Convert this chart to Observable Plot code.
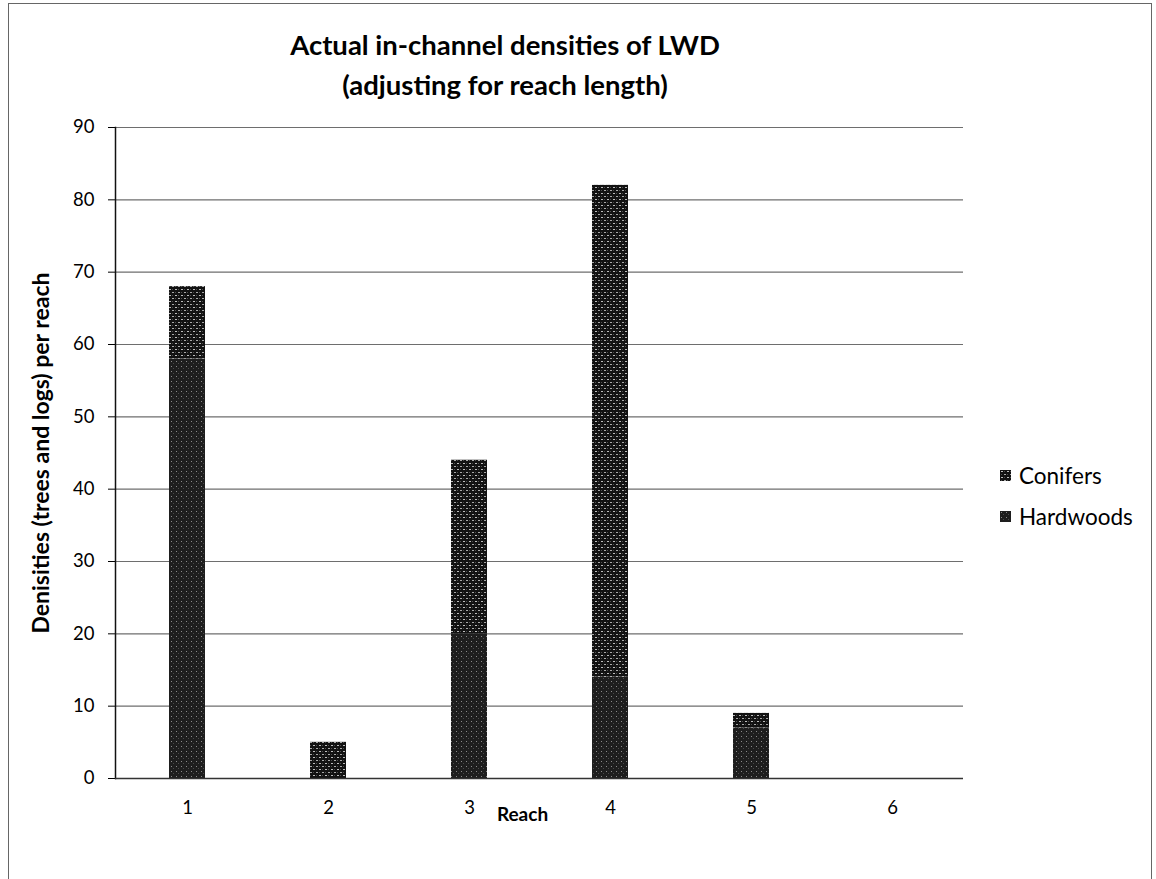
<!DOCTYPE html>
<html>
<head>
<meta charset="utf-8">
<script src="https://cdn.jsdelivr.net/npm/d3@7"></script>
<script src="https://cdn.jsdelivr.net/npm/@observablehq/plot@0.6"></script>
<style>
  html, body { margin: 0; padding: 0; background: #fff; }
  #wrap { position: relative; width: 1156px; height: 879px; font-family: Lato, "Open Sans", sans-serif; color: #000; }
  #frame { position: absolute; left: 8px; top: 3px; width: 1144px; height: 890px; border: 1px solid #666; box-sizing: border-box; }
  #title { position: absolute; left: 0; width: 1010px; top: 25px; text-align: center; font-weight: bold; font-size: 27.5px; line-height: 40px; }
  #legend { position: absolute; left: 1000px; top: 455px; font-size: 22.5px; }
  #legend .item { display: flex; align-items: center; height: 41px; }
  #legend svg { margin-right: 8px; }
  #chart { position: absolute; left: 0; top: 0; }
</style>
</head>
<body>
<div id="wrap">
  <div id="frame"></div>
  <div id="chart"></div>
  <div id="title">Actual in-channel densities of LWD<br>(adjusting for reach length)</div>
  <div id="legend"></div>
</div>
<script>
// Large woody debris densities per reach, split by wood type
const reaches = ["1", "2", "3", "4", "5", "6"];
const hardwoods = [58, 0, 20, 14, 7, 0];
const conifers = [10, 5, 24, 68, 2, 0];
const series = ["Hardwoods", "Conifers"];
const legendOrder = ["Conifers", "Hardwoods"];
const yTicks = [0, 10, 20, 30, 40, 50, 60, 70, 80, 90];

const patternIds = {Hardwoods: "pat-hardwoods", Conifers: "pat-conifers"};

// Hardwoods stacked first so they sit at the bottom of each bar
const rows = reaches.flatMap((r, i) => [
  {reach: r, series: "Hardwoods", value: hardwoods[i]},
  {reach: r, series: "Conifers", value: conifers[i]}
]);

// Textured fills used by the bars and legend swatches
function addPatterns(sel, suffix = "") {
  const defs = sel.append("defs");
  const hw = defs.append("pattern").attr("id", "pat-hardwoods" + suffix)
    .attr("patternUnits", "userSpaceOnUse").attr("width", 5).attr("height", 5);
  hw.append("rect").attr("width", 5).attr("height", 5).attr("fill", "#1e1e1e");
  hw.append("rect").attr("x", 1).attr("y", 1).attr("width", 1).attr("height", 1).attr("fill", "#8a8a8a");
  hw.append("rect").attr("x", 3).attr("y", 3).attr("width", 1).attr("height", 1).attr("fill", "#4a4a4a");
  const cf = defs.append("pattern").attr("id", "pat-conifers" + suffix)
    .attr("patternUnits", "userSpaceOnUse").attr("width", 6).attr("height", 6);
  cf.append("rect").attr("width", 6).attr("height", 6).attr("fill", "#121212");
  cf.append("rect").attr("x", 1).attr("y", 1).attr("width", 2).attr("height", 1).attr("fill", "#bdbdbd");
  cf.append("rect").attr("x", 4).attr("y", 4).attr("width", 2).attr("height", 1).attr("fill", "#a8a8a8");
  cf.append("rect").attr("x", 4).attr("y", 1).attr("width", 1).attr("height", 1).attr("fill", "#4d4d4d");
  cf.append("rect").attr("x", 1).attr("y", 4).attr("width", 1).attr("height", 1).attr("fill", "#4d4d4d");
}

const chart = Plot.plot({
  width: 1156,
  height: 879,
  marginTop: 127,
  marginLeft: 115,
  marginRight: 193,
  marginBottom: 101,
  style: {fontFamily: "Lato, 'Open Sans', sans-serif", fontSize: "18px", color: "#000", background: "transparent"},
  x: {domain: reaches, paddingInner: 0.745, paddingOuter: 0.3725},
  y: {domain: [0, 90]},
  color: {domain: series, range: series.map(s => `url(#${patternIds[s]})`)},
  marks: [
    Plot.ruleY(yTicks, {stroke: "#6e6e6e", strokeWidth: 1.2}),
    Plot.barY(rows, Plot.stackY({x: "reach", y: "value", fill: "series"})),
    Plot.axisY(yTicks, {
      tickSize: 7, tickPadding: 14, tickFormat: d => d, fontSize: 18.5,
      label: "Denisities (trees and logs) per reach", labelAnchor: "center", labelArrow: "none", labelOffset: 83
    }),
    Plot.axisX({
      tickSize: 0, tickPadding: 22, fontSize: 18.5,
      label: "Reach", labelAnchor: "center", labelArrow: "none", labelOffset: 42
    }),
    Plot.frame({anchor: "left", stroke: "#111", strokeWidth: 1.5}),
    Plot.ruleY([0], {stroke: "#333", strokeWidth: 1.5})
  ]
});

const svg = d3.select(chart);
addPatterns(svg);
svg.selectAll("[aria-label='y-axis label'] text")
  .style("font-weight", "bold").style("font-size", "23px");
// the category title sits slightly left of the plot centre
svg.selectAll("[aria-label='x-axis label'] text")
  .style("font-weight", "bold").style("font-size", "19px").attr("dx", -17);
document.getElementById("chart").appendChild(chart);

// Legend with pattern swatches
const legend = d3.select("#legend");
legendOrder.forEach(s => {
  const item = legend.append("div").attr("class", "item");
  const sw = item.append("svg").attr("width", 11).attr("height", 11);
  addPatterns(sw, "-lg-" + s);
  sw.append("rect").attr("width", 11).attr("height", 11).attr("fill", `url(#${patternIds[s]}-lg-${s})`);
  item.append("span").text(s);
});
</script>
</body>
</html>
